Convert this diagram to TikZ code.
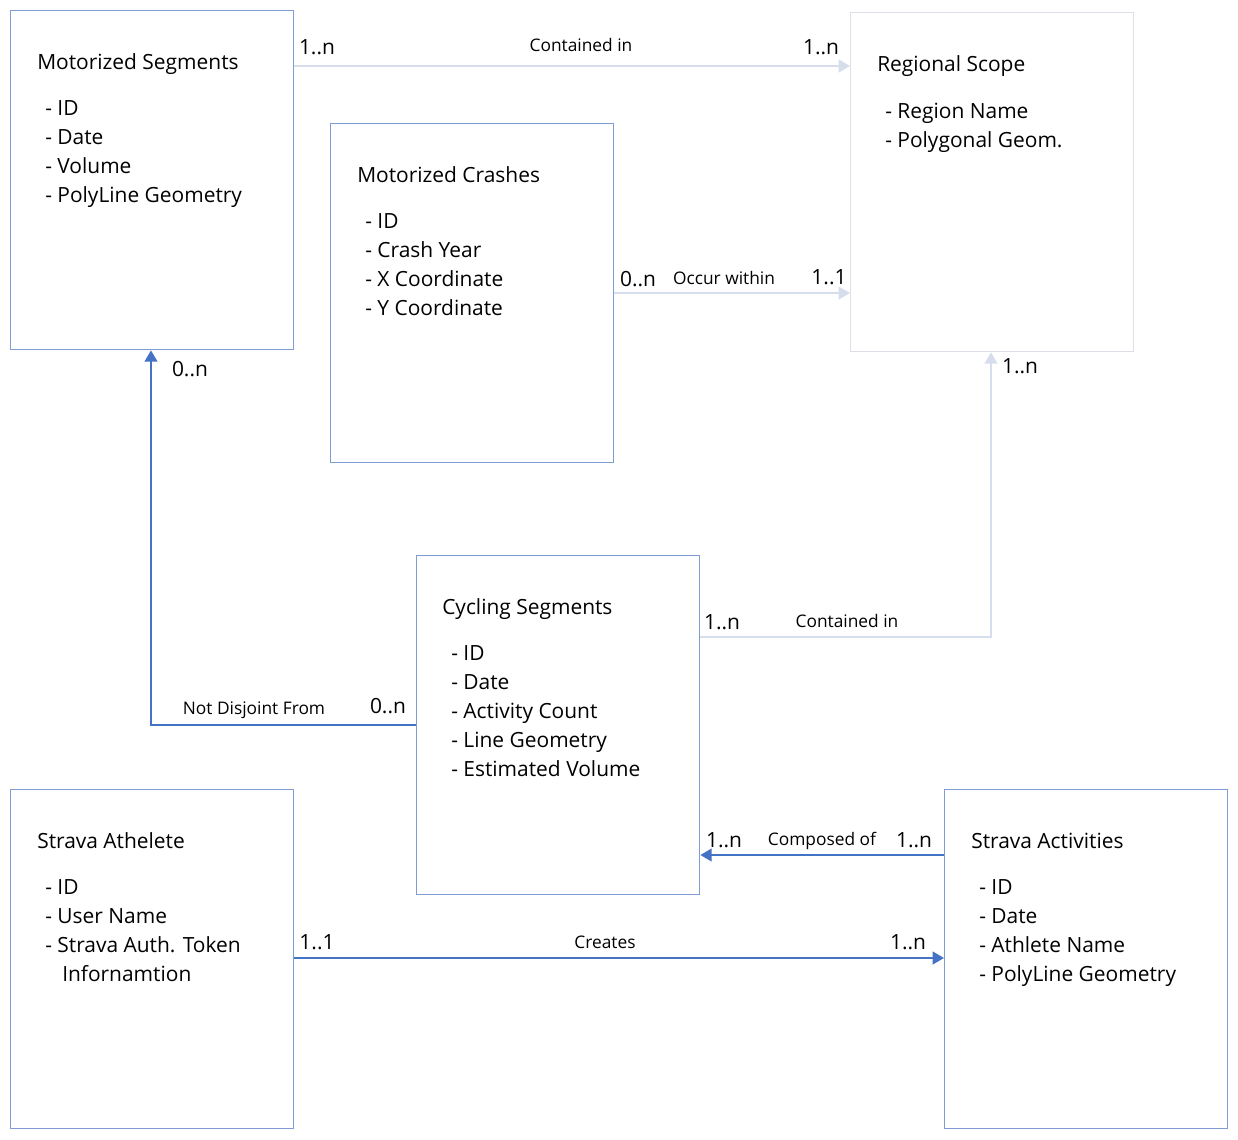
\documentclass[tikz,border=0pt]{standalone}
\usepackage{fontspec}
\setmainfont{Open Sans}
\usetikzlibrary{arrows.meta,calc}
\definecolor{bluebox}{HTML}{7F9CD4}
\definecolor{blueline}{HTML}{4472C4}
\definecolor{greybox}{HTML}{DCDFE6}
\definecolor{lightline}{HTML}{D6DDEC}
\tikzset{
  entity/.style={draw=bluebox,line width=1pt,minimum width=283*0.75pt,minimum height=339*0.75pt,inner sep=0,anchor=north west},
  ghost/.style={entity,draw=greybox},
  title/.style={anchor=base west,inner sep=0,font=\fontsize{15.7}{18}\selectfont,yshift=-0.75pt},
  attr/.style={anchor=base west,inner sep=0,font=\fontsize{15.7}{18}\selectfont,align=left,yshift=-0.75pt},
  mult/.style={anchor=base,inner sep=0,font=\fontsize{15.7}{18}\selectfont,yshift=-0.75pt},
  rel/.style={anchor=base,inner sep=0,font=\fontsize{13}{15}\selectfont,yshift=-0.75pt},
  bluecon/.style={draw=blueline,line width=1.6pt,-{Triangle[width=9.5pt,length=8.5pt]}},
  lightcon/.style={draw=lightline,line width=1.6pt,-{Triangle[width=9.5pt,length=8.5pt]}},
}
\begin{document}
\begin{tikzpicture}[x=0.75pt,y=-0.75pt]
\useasboundingbox (0,0) rectangle (1238,1139);
% boxes
\node[entity] (ms) at (10,10) {};
\node[ghost] (rs) at (850,12) {};
\node[entity] (mc) at (330,123) {};
\node[entity] (cs) at (416,555) {};
\node[entity] (sat) at (10,789) {};
\node[entity] (sac) at (944,789) {};
% texts
\node[title] (mst) at (37,68) {Motorized Segments};
\node[attr] (msa) at (45,114) {- ID};
\node[attr] (msb) at (45,143) {- Date};
\node[attr] (msc) at (45,172) {- Volume};
\node[attr] (msd) at (45,201) {- PolyLine Geometry};
\node[title] (rst) at (877,70) {Regional Scope};
\node[attr] (rsa) at (885,117) {- Region Name};
\node[attr] (rsb) at (885,146) {- Polygonal Geom.};
\node[title] (mct) at (357,181) {Motorized Crashes};
\node[attr] (mca) at (365,227) {- ID};
\node[attr] (mcb) at (365,256) {- Crash Year};
\node[attr] (mcc) at (365,285) {- X Coordinate};
\node[attr] (mcd) at (365,314) {- Y Coordinate};
\node[title] (cst) at (442,613) {Cycling Segments};
\node[attr] (csa) at (451,659) {- ID};
\node[attr] (csb) at (451,688) {- Date};
\node[attr] (csc) at (451,717) {- Activity Count};
\node[attr] (csd) at (451,746) {- Line Geometry};
\node[attr] (cse) at (451,775) {- Estimated Volume};
\node[title] (satt) at (37,847) {Strava Athelete};
\node[attr] (sata) at (45,893) {- ID};
\node[attr] (satb) at (45,922) {- User Name};
\node[attr] (satc) at (45,951) {- Strava Auth. Token};
\node[attr] (satd) at (62,980) {Infornamtion};
\node[title] (sact) at (971,847) {Strava Activities};
\node[attr] (saca) at (979,893) {- ID};
\node[attr] (sacb) at (979,922) {- Date};
\node[attr] (sacc) at (979,951) {- Athlete Name};
\node[attr] (sacd) at (979,980) {- PolyLine Geometry};
% connectors
\coordinate (p1) at (0,66);
\draw[lightcon] (ms.east |- p1) -- (rs.west |- p1);
\coordinate (p2) at (0,293);
\draw[lightcon] (mc.east |- p2) -- (rs.west |- p2);
\coordinate (p3) at (991,637);
\draw[lightcon] (cs.east |- p3) -- (p3) -- (p3 |- rs.south);
\coordinate (p4) at (151,725);
\draw[bluecon] (cs.west |- p4) -- (p4) -- (p4 |- ms.south);
\coordinate (p5) at (0,855);
\draw[bluecon] (sac.west |- p5) -- (cs.east |- p5);
\coordinate (p6) at (0,958);
\draw[bluecon] (sat.east |- p6) -- (sac.west |- p6);
% labels
\node[mult] (l1) at (317,53) {1..n};
\node[rel] (l2) at (581,50) {Contained in};
\node[mult] (l3) at (821,53) {1..n};
\node[mult] (l4) at (638,285) {0..n};
\node[rel] (l5) at (724,283) {Occur within};
\node[mult] (l6) at (829,283) {1..1};
\node[mult] (l7) at (722,628) {1..n};
\node[rel] (l8) at (847,626) {Contained in};
\node[mult] (l9) at (1020,372) {1..n};
\node[rel] (l10) at (254,713) {Not Disjoint From};
\node[mult] (l11) at (388,712) {0..n};
\node[mult] (l12) at (190,375) {0..n};
\node[mult] (l13) at (724,846) {1..n};
\node[rel] (l14) at (822,844) {Composed of};
\node[mult] (l15) at (914,846) {1..n};
\node[mult] (l16) at (317,948) {1..1};
\node[rel] (l17) at (605,947) {Creates};
\node[mult] (l18) at (908,948) {1..n};
\end{tikzpicture}
\end{document}
